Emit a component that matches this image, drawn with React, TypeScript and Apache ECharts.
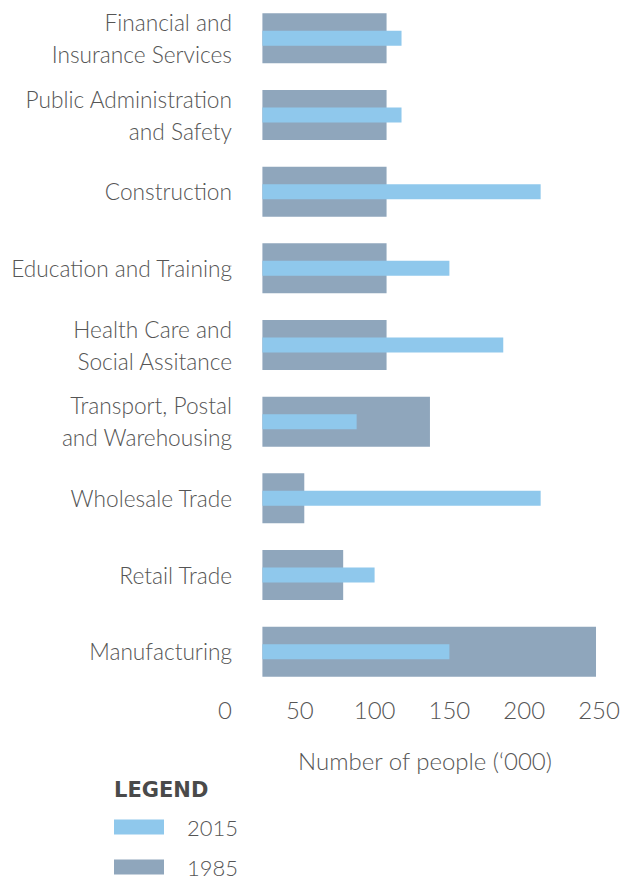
import React, { useEffect, useRef } from "react";
import * as echarts from "echarts";

const categories = [
  "Financial and\nInsurance Services",
  "Public Administration\nand Safety",
  "Construction",
  "Education and Training",
  "Health Care and\nSocial Assitance",
  "Transport, Postal\nand Warehousing",
  "Wholesale Trade",
  "Retail Trade",
  "Manufacturing",
];

// Bar end positions (thousands of people)
const values2015 = [118, 118, 211, 150, 186, 88, 211, 100, 150];
const values1985 = [108, 108, 108, 108, 108, 137, 53, 79, 248];
// Bars in the reference start at this axis value rather than at 0
const barStart = 25;

const xTicks = [0, 50, 100, 150, 200, 250];
const legendNames = ["2015", "1985"];

const COLOR_2015 = "#8FC8EC";
const COLOR_1985 = "#8FA6BC";
const TEXT = "#555555";
const FONT = "Lato, 'Open Sans', sans-serif";

export default function App() {
  const ref = useRef<HTMLDivElement>(null);

  useEffect(() => {
    if (!ref.current) return;
    const chart = echarts.init(ref.current, undefined, { renderer: "svg" });
    const baseArr = categories.map(() => barStart);
    const legendCommon = {
      orient: "vertical",
      left: 114,
      padding: 0,
      itemWidth: 50,
      itemHeight: 15,
      icon: "rect",
      selectedMode: false,
      textStyle: {
        fontSize: 22,
        color: TEXT,
        fontFamily: FONT,
        fontWeight: 300,
        padding: [0, 0, 0, 18],
      },
    };
    chart.setOption({
      animation: false,
      textStyle: { fontFamily: FONT },
      grid: { left: 225, right: 27, top: 0, height: 690, containLabel: false },
      legend: [
        { ...legendCommon, data: [legendNames[0]], top: 816 },
        { ...legendCommon, data: [legendNames[1]], top: 856 },
      ],
      title: {
        text: "LEGEND",
        left: 114,
        top: 779,
        padding: 0,
        textStyle: {
          fontSize: 21,
          fontWeight: "bold",
          color: "#4a4a4a",
          fontFamily: "'DejaVu Sans', sans-serif",
        },
      },
      xAxis: {
        type: "value",
        min: xTicks[0],
        max: xTicks[xTicks.length - 1],
        interval: 50,
        axisLine: { show: false },
        axisTick: { show: false },
        splitLine: { show: false },
        axisLabel: {
          fontSize: 24,
          color: TEXT,
          margin: 7,
          fontFamily: FONT,
          fontWeight: 300,
        },
        name: "Number of people (\u2018000)",
        nameLocation: "middle",
        nameGap: 58,
        nameTextStyle: {
          fontSize: 24,
          color: TEXT,
          fontFamily: FONT,
          fontWeight: 300,
          padding: [0, 0, 0, 26],
        },
      },
      yAxis: [
        {
          type: "category",
          data: categories,
          inverse: true,
          axisLine: { show: false },
          axisTick: { show: false },
          axisLabel: {
            fontSize: 22.7,
            lineHeight: 32,
            color: TEXT,
            margin: -7,
            fontFamily: FONT,
            fontWeight: 300,
          },
        },
        {
          type: "category",
          data: categories,
          inverse: true,
          show: false,
        },
      ],
      series: [
        {
          name: "base1985",
          type: "bar",
          yAxisIndex: 0,
          stack: "a",
          barWidth: 50,
          itemStyle: { color: "transparent" },
          silent: true,
          data: baseArr,
        },
        {
          name: legendNames[1],
          type: "bar",
          yAxisIndex: 0,
          stack: "a",
          barWidth: 50,
          itemStyle: { color: COLOR_1985 },
          data: values1985.map((v) => v - barStart),
        },
        {
          name: "base2015",
          type: "bar",
          yAxisIndex: 1,
          stack: "b",
          barWidth: 15,
          itemStyle: { color: "transparent" },
          silent: true,
          data: baseArr,
        },
        {
          name: legendNames[0],
          type: "bar",
          yAxisIndex: 1,
          stack: "b",
          barWidth: 15,
          itemStyle: { color: COLOR_2015 },
          data: values2015.map((v) => v - barStart),
        },
      ],
    });
    return () => chart.dispose();
  }, []);

  return (
    <div
      ref={ref}
      style={{ position: "absolute", left: 0, top: 0, width: 626, height: 879 }}
    />
  );
}
